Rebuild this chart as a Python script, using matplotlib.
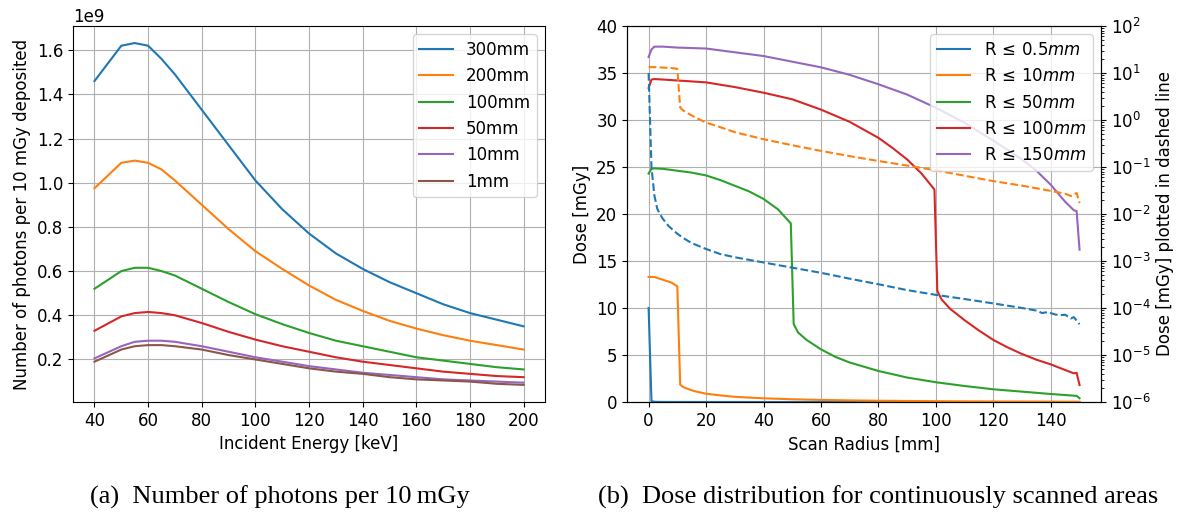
import matplotlib
matplotlib.use('agg')
import matplotlib.pyplot as plt
import numpy as np

# (a) photons per 10 mGy vs incident energy
energy = [40, 50, 55, 60, 65, 70, 80, 90, 100, 110, 120, 130, 140, 150, 160, 170, 180, 190, 200]
phantom_labels = ['300mm', '200mm', '100mm', '50mm', '10mm', '1mm']
photons_300 = [1.46, 1.62, 1.632, 1.62, 1.56, 1.49, 1.33, 1.17, 1.01, 0.88, 0.77, 0.68, 0.61, 0.55, 0.50, 0.45, 0.41, 0.38, 0.35]
photons_200 = [0.975, 1.09, 1.10, 1.09, 1.06, 1.01, 0.90, 0.79, 0.69, 0.61, 0.535, 0.47, 0.42, 0.375, 0.34, 0.31, 0.285, 0.265, 0.245]
photons_100 = [0.52, 0.60, 0.615, 0.615, 0.60, 0.58, 0.52, 0.46, 0.405, 0.36, 0.32, 0.285, 0.26, 0.235, 0.21, 0.195, 0.18, 0.165, 0.155]
photons_50 = [0.33, 0.395, 0.41, 0.415, 0.41, 0.40, 0.365, 0.325, 0.29, 0.26, 0.235, 0.21, 0.19, 0.175, 0.16, 0.145, 0.135, 0.125, 0.12]
photons_10 = [0.205, 0.26, 0.28, 0.285, 0.285, 0.28, 0.26, 0.235, 0.21, 0.19, 0.17, 0.155, 0.14, 0.13, 0.12, 0.11, 0.105, 0.10, 0.095]
photons_1 = [0.19, 0.245, 0.26, 0.265, 0.265, 0.26, 0.245, 0.22, 0.20, 0.18, 0.16, 0.145, 0.135, 0.12, 0.11, 0.105, 0.10, 0.09, 0.085]

# (b) dose vs scan radius, one radius list per area
r_05 = [0, 1, 2, 3, 4, 5, 7, 10, 12, 15, 20, 25, 30, 40, 50, 60, 70, 80, 90, 100, 110, 120, 130, 135, 137, 139, 141, 143, 145, 147, 148, 150]
dose_05 = [10, 0.1, 0.025, 0.013, 0.0098, 0.0078, 0.0055, 0.0038, 0.0031, 0.0024, 0.0018, 0.0014, 0.0012, 0.00093, 0.00072,
           0.00056, 0.00042, 0.00032, 0.00024, 0.00019, 0.000155, 0.000125, 0.0001, 8.8e-5, 7.8e-5, 8.2e-5, 7.4e-5, 7.0e-5, 7.2e-5,
           6.0e-5, 6.4e-5, 4.5e-5]
r_10 = [0, 2, 4, 6, 8, 10, 11, 12, 14, 16, 20, 25, 30, 40, 50, 60, 70, 80, 90, 100, 110, 120, 130, 140, 145, 147, 148, 149, 150]
dose_10 = [13.3, 13.3, 13.1, 12.9, 12.7, 12.3, 1.84, 1.6, 1.35, 1.15, 0.88, 0.7, 0.55, 0.39, 0.29, 0.22, 0.17, 0.134, 0.107,
           0.085, 0.065, 0.050, 0.040, 0.031, 0.027, 0.024, 0.026, 0.028, 0.017]
r_50 = [0, 1, 2, 5, 10, 15, 20, 25, 30, 35, 40, 45, 49.5, 50.5, 52, 55, 60, 65, 70, 80, 90, 100, 110, 120, 130, 140, 149, 150]
dose_50 = [24.3, 24.8, 24.85, 24.8, 24.6, 24.4, 24.1, 23.6, 23.0, 22.4, 21.6, 20.5, 19.0, 8.3, 7.4, 6.6, 5.6, 4.8, 4.2, 3.3,
           2.6, 2.1, 1.7, 1.35, 1.1, 0.85, 0.65, 0.4]
r_100 = [0, 1, 2, 5, 10, 20, 30, 40, 50, 60, 70, 80, 85, 90, 95, 99.5, 100.5, 102, 105, 110, 115, 120, 125, 130, 135, 140,
         145, 148, 149, 150]
dose_100 = [33.4, 34.3, 34.35, 34.3, 34.2, 34.0, 33.5, 32.9, 32.2, 31.1, 29.8, 28.1, 27.0, 25.8, 24.3, 22.6, 11.8, 10.9,
            9.9, 8.7, 7.6, 6.6, 5.8, 5.1, 4.5, 4.0, 3.4, 3.05, 3.1, 1.8]
r_150 = [0, 1, 2, 5, 10, 20, 30, 40, 50, 60, 70, 80, 90, 100, 110, 120, 130, 135, 140, 145, 148, 149, 150]
dose_150 = [36.7, 37.5, 37.8, 37.8, 37.7, 37.6, 37.2, 36.8, 36.2, 35.6, 34.8, 33.8, 32.7, 31.3, 29.7, 27.8, 25.8, 24.6,
            23.1, 21.3, 20.4, 20.3, 16.2]
area_labels = [r'R$\,\leq\,$0.5$mm$', r'R$\,\leq\,$10$mm$', r'R$\,\leq\,$50$mm$', r'R$\,\leq\,$100$mm$', r'R$\,\leq\,$150$mm$']

plt.rcParams['font.family'] = 'DejaVu Sans'
plt.rcParams['font.size'] = 12

fig = plt.figure(figsize=(11.78, 5.13), dpi=100)
ax1 = fig.add_axes([0.062, 0.2164, 0.4007, 0.733])
ax2 = fig.add_axes([0.5323, 0.2164, 0.4024, 0.733])

photons = [photons_300, photons_200, photons_100, photons_50, photons_10, photons_1]
for vals, lab in zip(photons, phantom_labels):
    ax1.plot(energy, np.array(vals) * 1e9, lw=1.5, label=lab)
ax1.set_xlabel('Incident Energy [keV]')
ax1.set_ylabel('Number of photons per 10 mGy deposited')
ax1.grid(True)
ax1.legend(loc='upper right')

radii = [r_05, r_10, r_50, r_100, r_150]
doses = [dose_05, dose_10, dose_50, dose_100, dose_150]
lines = []
for r, d, lab in zip(radii, doses, area_labels):
    ln, = ax2.plot(r, d, lw=1.5, label=lab)
    lines.append(ln)
ax2.set_ylim(0, 40)
ax2.set_xlabel('Scan Radius [mm]')
ax2.set_ylabel('Dose [mGy]')
ax2.grid(True)

# dashed copies of the two smallest areas on a log axis
ax3 = ax2.twinx()
ax3.plot(r_05, dose_05, '--', color='C0', lw=1.5)
ax3.plot(r_10, dose_10, '--', color='C1', lw=1.5)
ax3.set_yscale('log')
ax3.set_ylim(1e-6, 1e2)
ax3.set_ylabel('Dose [mGy] plotted in dashed line')
ax3.legend(lines, area_labels, loc='upper right')

cap = dict(family='Liberation Serif', fontsize=19, va='center', ha='left')
fig.text(0.076, 0.030, '(a)  Number of photons per 10\u2009mGy', **cap)
fig.text(0.5076, 0.030, '(b)  Dose distribution for continuously scanned areas', **cap)

fig.savefig('out.png', dpi=100)
